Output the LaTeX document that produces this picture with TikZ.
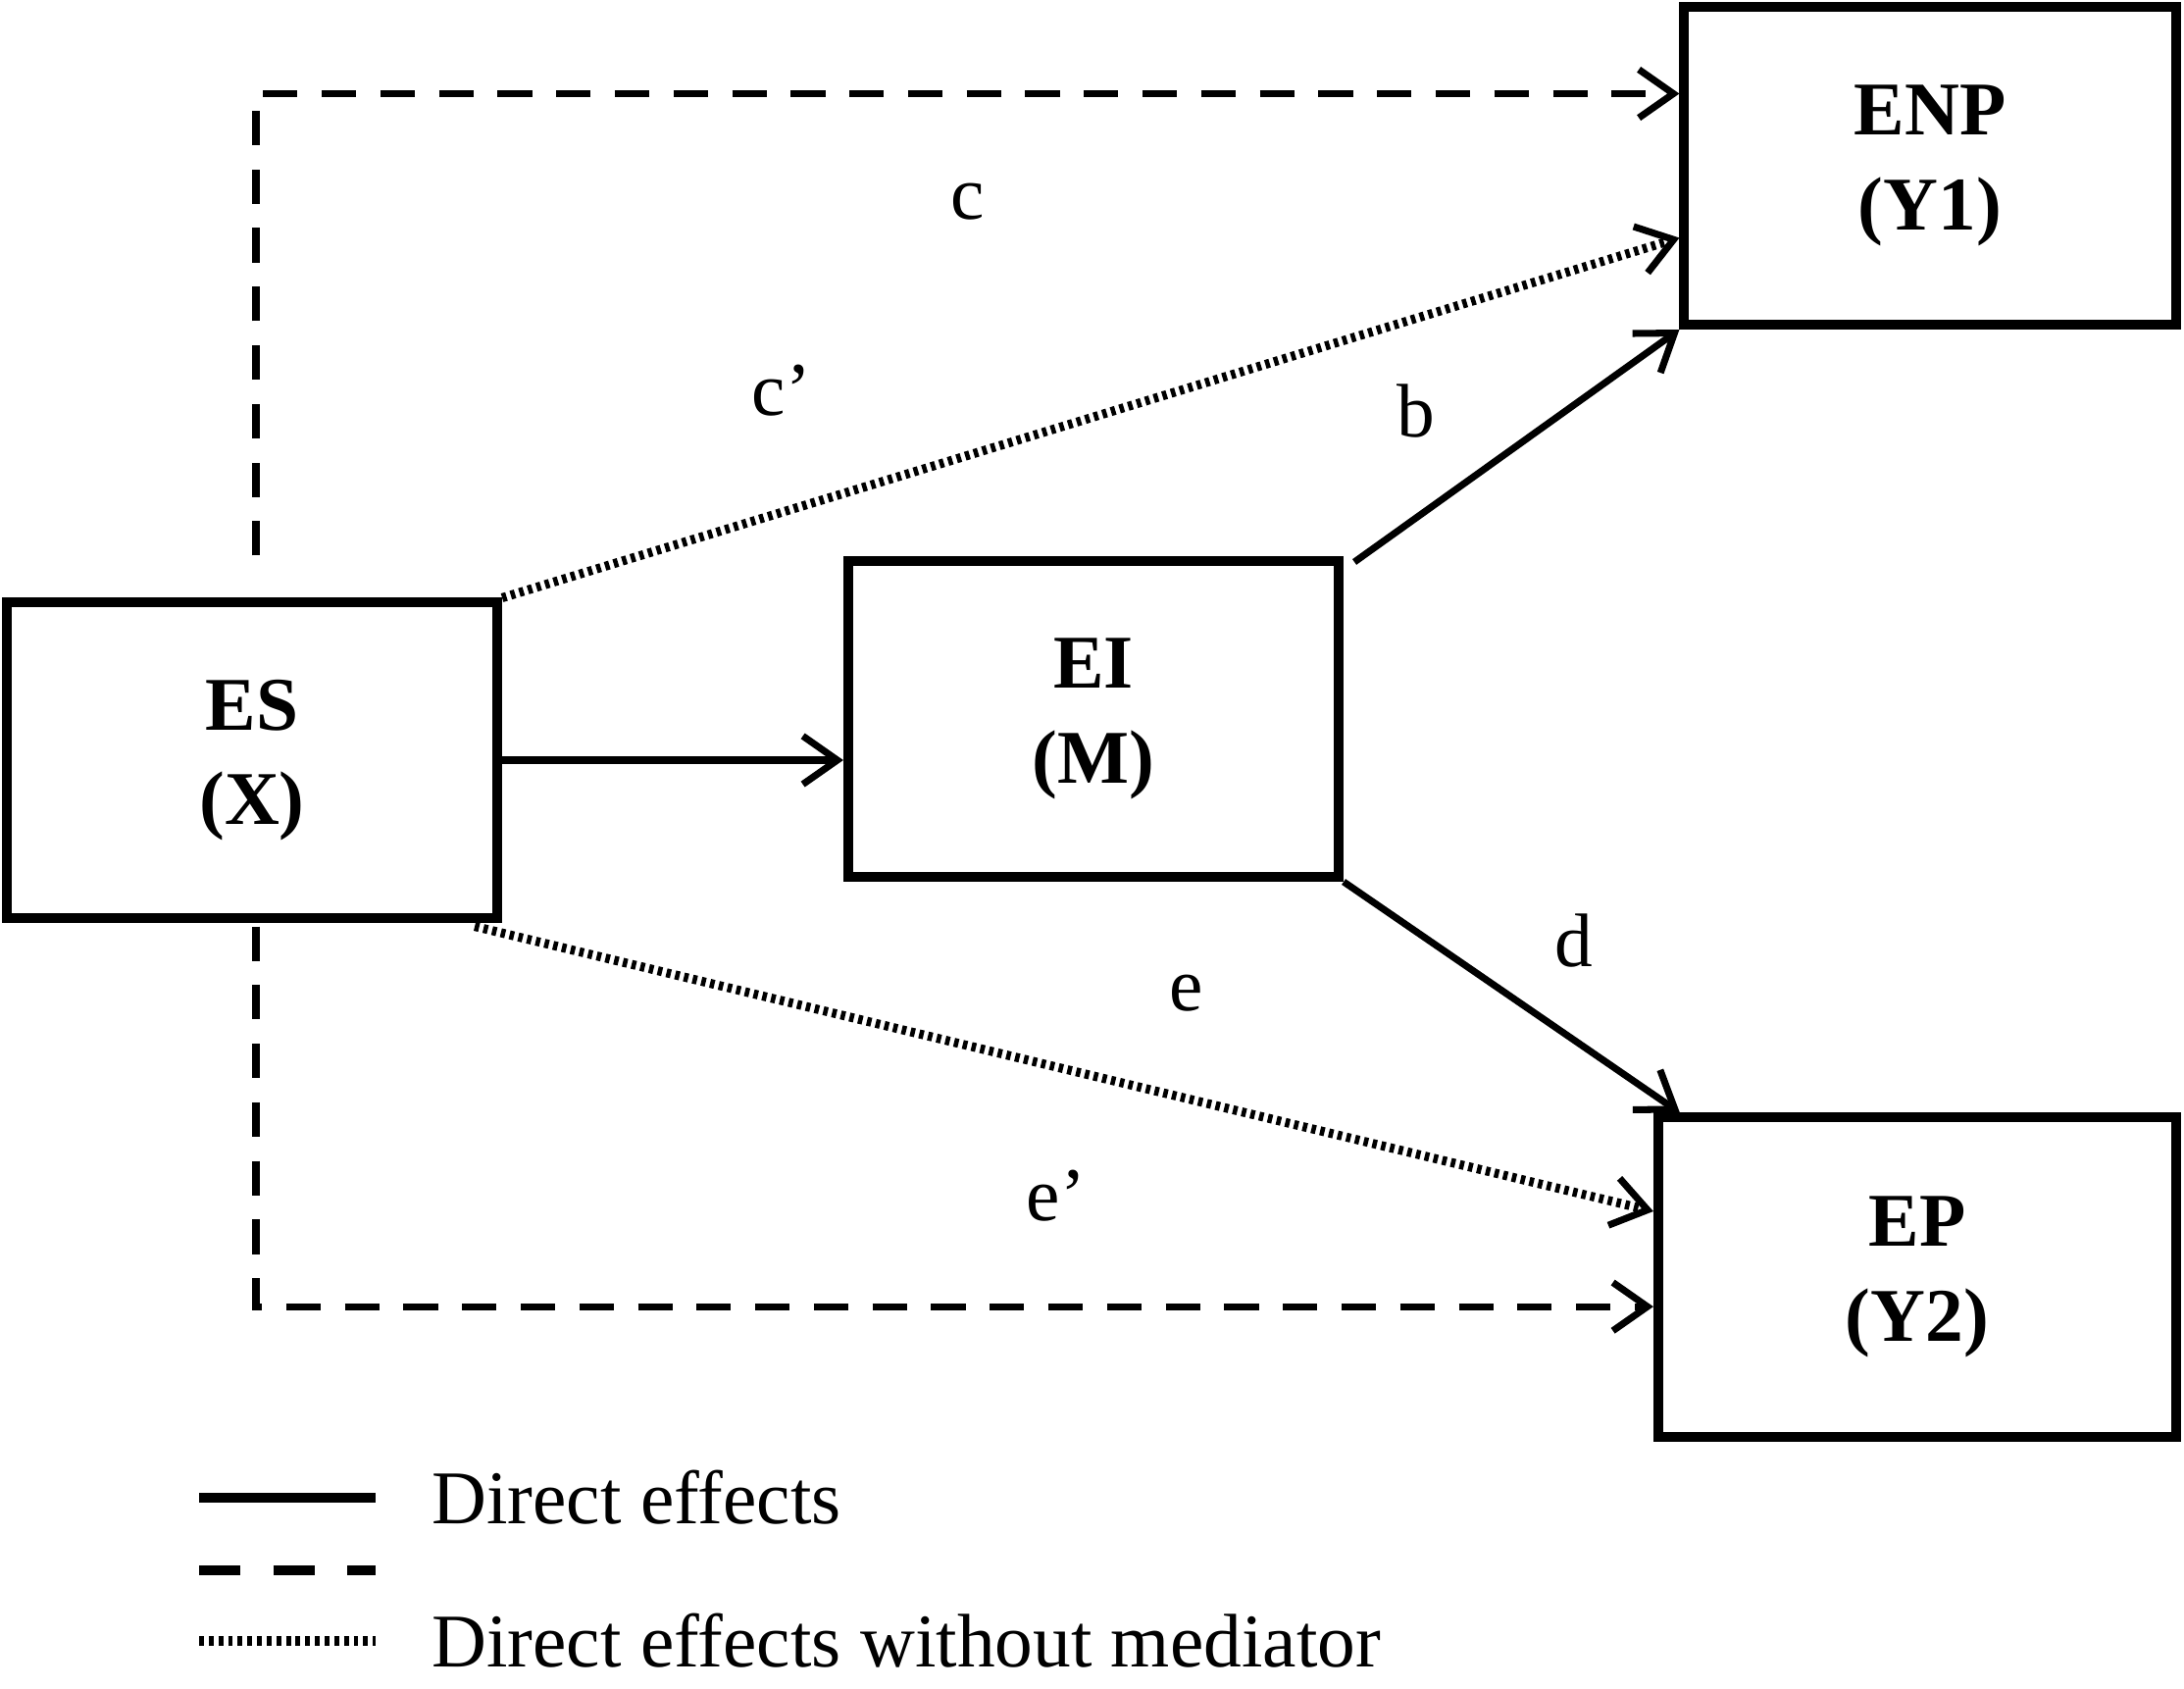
\documentclass[tikz,border=0pt]{standalone}
\usepackage{fontspec}
\setmainfont{Liberation Serif}
\usepackage{tikz}
\usetikzlibrary{calc}
\usetikzlibrary{arrows.meta}
\tikzset{
   varbox/.style={draw=black, line width=2.8pt, rectangle, align=center,
      font=\fontsize{22}{27.5}\selectfont\bfseries},
   effect/.style={line width=2pt, -{Straight Barb[length=10pt,width=14pt,line width=2pt]}},
   direct/.style={effect},
   total/.style={effect, dash pattern=on 10pt off 7pt},
   nomed/.style={effect, line width=2.6pt, dash pattern=on 1.3pt off 1.3pt},
   pathlabel/.style={font=\fontsize{22}{27}\selectfont},
    }
\begin{document}
\begin{tikzpicture}[x=0.01cm, y=-0.01cm]
        \useasboundingbox (0,0) rectangle (2227,1722);
        % variables
        \node[varbox, minimum width=5.0cm, minimum height=3.21cm] (es) at (257,775) {ES\\(X)};
        \node[varbox, minimum width=5.0cm, minimum height=3.22cm] (ei) at (1115,733) {EI\\(M)};
        \node[varbox, minimum width=5.01cm, minimum height=3.24cm] (enp) at (1968,169) {ENP\\(Y1)};
        \node[varbox, minimum width=5.28cm, minimum height=3.25cm] (ep) at (1955,1302) {EP\\(Y2)};
        % paths
        \draw[direct] (es.east) -- (es.east -| ei.west);
        \draw[direct] ($(ei.north east)+(11,6)$) -- (enp.south west);
        \draw[direct] (ei.south east) -- ($(ep.north west)+(27,0)$);
        \draw[total] ($(es.north)+(4,-43)$) |- ($(enp.north west)!0.28!(enp.south west)$);
        \draw[total] ($(es.south)+(4,4)$) |- ($(ep.north west)!0.59!(ep.south west)$);
        \draw[nomed] (es.north east) -- ($(enp.north west)!0.72!(enp.south west)$);
        \draw[nomed] ($(es.south east)+(-28,4)$) -- ($(ep.north west)!0.30!(ep.south west)$);
        % labels
        \node[pathlabel] (lc) at (987,206) {c};
        \node[pathlabel] (lcp) at (797,398) {c’};
        \node[pathlabel] (lb) at (1444,419) {b};
        \node[pathlabel] (ld) at (1605,959) {d};
        \node[pathlabel] (le) at (1210,1013) {e};
        \node[pathlabel] (lep) at (1077,1219) {e’};
        % legend
        \coordinate (k1a) at (203,1527); \coordinate (k1b) at (383,1527);
        \coordinate (k2a) at (203,1601); \coordinate (k2b) at (383,1601);
        \coordinate (k3a) at (203,1673); \coordinate (k3b) at (383,1673);
        \draw[line width=3pt] (k1a) -- (k1b);
        \draw[line width=3pt, dash pattern=on 12pt off 9.5pt] (k2a) -- (k2b);
        \draw[line width=3pt, dash pattern=on 1.4pt off 1.4pt] (k3a) -- (k3b);
        \node[pathlabel, anchor=west] (key1) at (428,1527) {Direct effects};
        \node[pathlabel, anchor=west] (key3) at (428,1673) {Direct effects without mediator};
\end{tikzpicture}
\end{document}
